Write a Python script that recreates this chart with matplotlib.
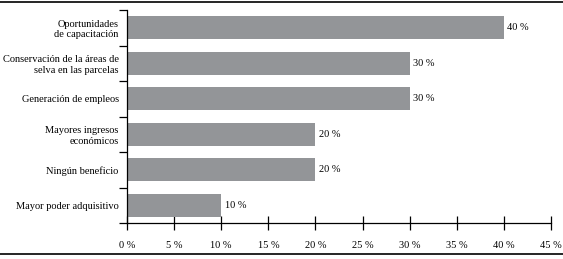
import matplotlib
matplotlib.use("Agg")
import matplotlib.pyplot as plt
from matplotlib.lines import Line2D

plt.rcParams.update({
    "font.family": "Liberation Serif",
    "font.size": 7.5,
    "axes.linewidth": 0.9,
})

# ---------------------------------------------------------------------------
# Data (top to bottom)
# ---------------------------------------------------------------------------
categories = [
    "Oportunidades\nde capacitación",
    "Conservación de la áreas de\nselva en las parcelas",
    "Generación de empleos",
    "Mayores ingresos\neconómicos",
    "Ningún beneficio",
    "Mayor poder adquisitivo",
]
values = [40, 30, 30, 20, 20, 10]
xticks = [0, 5, 10, 15, 20, 25, 30, 35, 40, 45]
bar_color = "#939598"

fig = plt.figure(figsize=(5.63, 2.59), dpi=100)
ax = fig.add_axes([127 / 563, 1 - 223 / 259, (551 - 127) / 563, (223 - 10) / 259])

n = len(categories)
ypos = list(range(n))
ax.barh(ypos, values, height=0.65, color=bar_color, zorder=2)
ax.set_ylim(n - 0.5, -0.5)
ax.set_xlim(0, 45)

for y, v in zip(ypos, values):
    ax.text(v + 0.35, y, f"{v} %", va="center", ha="left", fontsize=7.5)

# y axis: ticks at category boundaries, labels centred on bars
ax.set_yticks([i - 0.5 for i in range(n + 1)])
ax.set_yticklabels([])
ax.set_yticks(ypos, minor=True)
ax.set_yticklabels(categories, minor=True, ha="right", multialignment="right")
ax.tick_params(axis="y", which="major", direction="out", length=6, width=0.9)
ax.tick_params(axis="y", which="minor", length=0, pad=6)

ax.set_xticks(xticks)
ax.set_xticklabels([f"{t} %" for t in xticks])
ax.tick_params(axis="x", direction="inout", length=10, width=0.9, pad=8)

for s in ("top", "right"):
    ax.spines[s].set_visible(False)

# rules above and below the figure
fig.add_artist(Line2D([0, 1], [1 - 2 / 259, 1 - 2 / 259], color="black", lw=1.2))
fig.add_artist(Line2D([0, 1], [1 - 254 / 259, 1 - 254 / 259], color="black", lw=1.2))

fig.savefig("out.png", dpi=100)
